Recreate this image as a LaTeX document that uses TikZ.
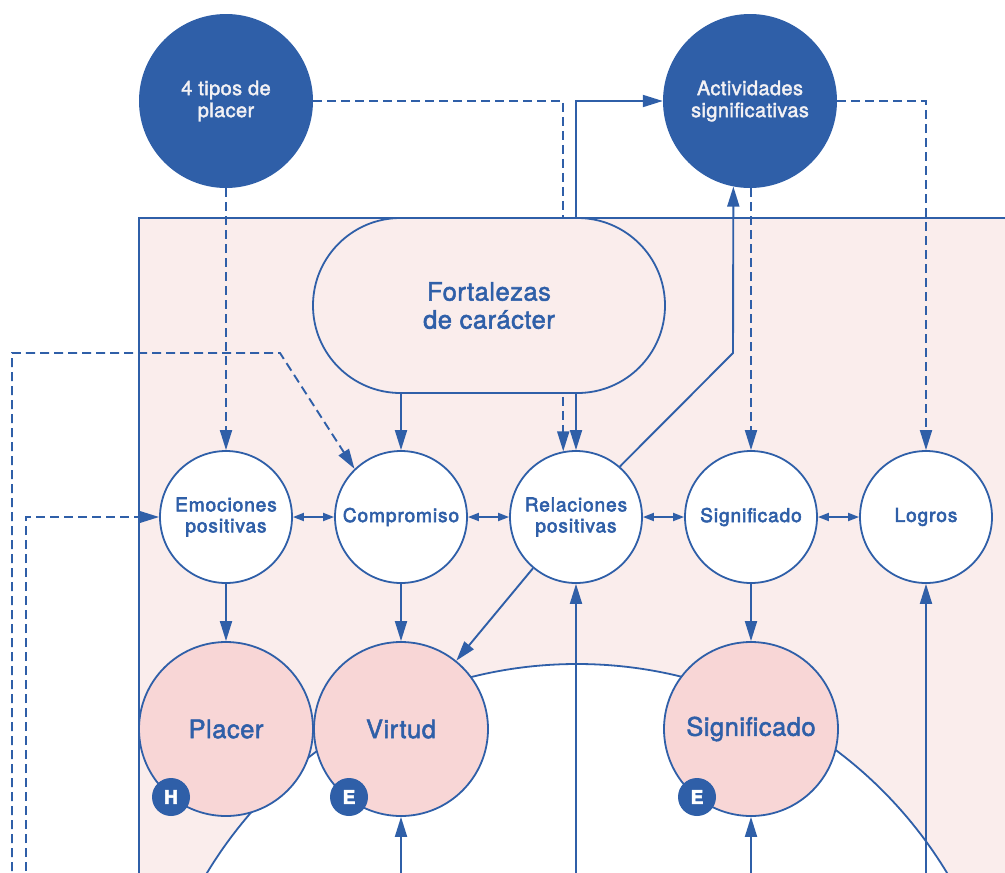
\documentclass[tikz,border=0pt]{standalone}
\usepackage{fontspec}
\setmainfont{TeX Gyre Heros}
\newfontfamily\labsemi[FakeBold=3,LetterSpace=5]{TeX Gyre Heros}
\newfontfamily\labmed[FakeBold=2,LetterSpace=2]{TeX Gyre Heros}
\newfontfamily\badgef[FakeBold=3]{TeX Gyre Heros}
\usetikzlibrary{arrows.meta,shapes.misc,calc}

\definecolor{pblue}{HTML}{2F5FA8}
\definecolor{ppanel}{HTML}{FAEDEC}
\definecolor{ppink}{HTML}{F8D6D6}
\definecolor{ptext}{HTML}{F3F1F4}

\begin{document}
\begin{tikzpicture}[x=1pt,y=-1pt,
  conn/.style={draw=pblue,line width=1.9pt,-{Triangle[length=20pt,width=12pt]}},
  dconn/.style={conn,dash pattern=on 9pt off 5pt},
  link/.style={draw=pblue,line width=1.9pt,{Triangle[length=11pt,width=8pt]}-{Triangle[length=11pt,width=8pt]}},
  topc/.style={circle,fill=pblue,minimum size=174pt,inner sep=0pt,text=ptext,align=center,font=\labmed\fontsize{20}{22}\selectfont},
  midc/.style={circle,draw=pblue,fill=white,line width=1.8pt,minimum size=132pt,inner sep=0pt,text=pblue,align=center,font=\labsemi\fontsize{19}{21}\selectfont},
  bigc/.style={circle,draw=pblue,fill=ppink,line width=1.8pt,minimum size=174pt,inner sep=0pt,text=pblue,font=\labmed\fontsize{25.5}{28}\selectfont},
  badge/.style={circle,fill=pblue,minimum size=38pt,inner sep=0pt,text=white,font=\badgef\bfseries\fontsize{19}{19}\selectfont},
]
\useasboundingbox (0,0) rectangle (1005,873);
\clip (0,0) rectangle (1005,873);

% background panel and the large white disc
\fill[ppanel] (139,218) rectangle (1015,885);
\draw[pblue,line width=1.9pt] (1015,218) -- (139,218) -- (139,885);
\draw[pblue,line width=1.8pt,fill=white] (577,1096) circle[radius=432pt];

% top sources
\node[topc] (tipos) at (226,101) {4 tipos de\\placer};
\node[topc] (act) at (750,101) {Actividades\\significativas};

% middle row
\node[midc] (emo)  at (226,517) {Emociones\\positivas};
\node[midc] (comp) at (401,517) {Compromiso};
\node[midc] (rel)  at (576,517) {Relaciones\\positivas};
\node[midc] (sig)  at (751,517) {Significado};
\node[midc] (log)  at (926,517) {Logros};

% free ends of the open connectors
\coordinate (loopA) at (12,885);
\coordinate (loopB) at (280,353);
\coordinate (loopC) at (26,885);
\coordinate (relbend) at (733,353);
\coordinate (b1) at (401,885);
\coordinate (b2) at (576,885);
\coordinate (b3) at (751,885);
\coordinate (b4) at (926,885);

% dashed feeds (the one into Relaciones runs behind the stadium)
\draw[dconn] (tipos.east) -| (rel.101);
\draw[dconn] (tipos) -- (emo);
\draw[dconn] (act.south -| sig) -- (sig);
\draw[dconn] (act.east) -| (log);
\draw[dconn] (loopA) |- (loopB) -- (comp.134);
\draw[dconn] (loopC) |- (emo.west);

% stadium
\node[draw=pblue,fill=ppanel,line width=1.8pt,rounded rectangle,minimum width=352pt,minimum height=175pt,inner sep=0pt,text=pblue,align=center,font=\labmed\fontsize{25.5}{28}\selectfont] (fort) at (489,305.5) {Fortalezas\\de carácter};

\draw[conn] (fort.north -| rel) |- (act.west);
\draw[conn] (fort.south -| comp) -- (comp);
\draw[conn] (fort.south -| rel) -- (rel);
\draw[conn] (rel.49) -- (relbend) -- (act.259);

% bottom row
\node[bigc] (pla)  at (226,729) {Placer};
\node[bigc] (vir)  at (401,729) {Virtud};
\node[bigc] (sig2) at (751,729) {Significado};
\node[badge] (bh)  at (171,797) {H};
\node[badge] (be1) at (349,797) {E};
\node[badge] (be2) at (697,797) {E};

\draw[conn] (emo) -- (pla);
\draw[conn] (comp) -- (vir);
\draw[conn] (sig) -- (sig2);
\draw[conn] (rel.230) -- (vir.51);

\draw[conn] (b1) -- (vir);
\draw[conn] (b2) -- (rel);
\draw[conn] (b3) -- (sig2);
\draw[conn] (b4) -- (log);

% two-way links along the middle row
\draw[link] (emo) -- (comp);
\draw[link] (comp) -- (rel);
\draw[link] (rel) -- (sig);
\draw[link] (sig) -- (log);
\end{tikzpicture}
\end{document}
